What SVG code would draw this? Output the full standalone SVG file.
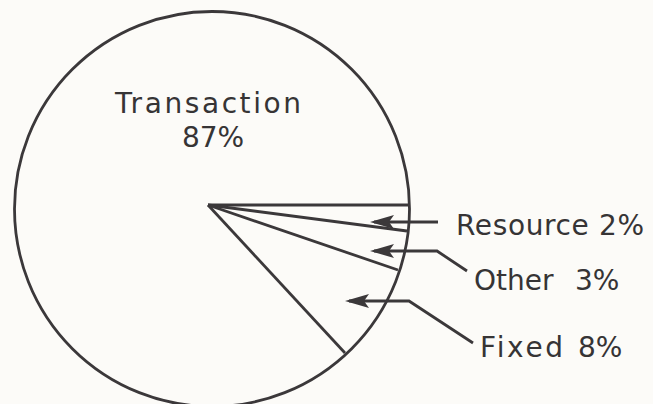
<svg xmlns="http://www.w3.org/2000/svg" width="653" height="404" viewBox="0 0 653 404">
  <style>
    .ln { fill: none; stroke: #3b383a; stroke-width: 2.8; stroke-linejoin: miter; }
    .lbl { font-family: "DejaVu Sans", "Liberation Sans", sans-serif; font-size: 28px; fill: #363435; }
  </style>
  <defs>
    <marker id="ah" markerUnits="userSpaceOnUse" markerWidth="28" markerHeight="18" viewBox="0 -9 28 18" refX="20" refY="0" orient="auto">
      <path d="M24,0 L0,-7 L5,0 L0,7 Z" fill="#3b383a"/>
    </marker>
  </defs>
  <rect width="653" height="404" fill="#fcfbf8"/>
  <g id="pie">
    <circle cx="212" cy="209" r="197.5" class="ln"/>
    <line x1="208" y1="205" x2="409" y2="205" class="ln"/>
    <line x1="208" y1="205" x2="407" y2="231" class="ln"/>
    <line x1="208" y1="205" x2="398" y2="270" class="ln"/>
    <line x1="208" y1="205" x2="345" y2="353" class="ln"/>
  </g>
  <g id="connectors">
    <path d="M438,222 L374,222" class="ln" marker-end="url(#ah)"/>
    <path d="M467,271 L437,251 L374,251" class="ln" marker-end="url(#ah)"/>
    <path d="M473,343 L409,301 L349,301" class="ln" marker-end="url(#ah)"/>
  </g>
  <g id="transaction">
    <text class="lbl" x="115" y="113" font-size="31" textLength="186" lengthAdjust="spacing">Transaction</text>
    <text class="lbl" x="213" y="147" text-anchor="middle">87%</text>
  </g>
  <g id="resource">
    <text class="lbl" x="456" y="235" textLength="188" lengthAdjust="spacing">Resource 2%</text>
  </g>
  <g id="other">
    <text class="lbl" x="474" y="290">Other<tspan x="575">3%</tspan></text>
  </g>
  <g id="fixed">
    <text class="lbl" x="480" y="357" textLength="83" lengthAdjust="spacing">Fixed</text>
    <text class="lbl" x="578" y="357">8%</text>
  </g>
</svg>
